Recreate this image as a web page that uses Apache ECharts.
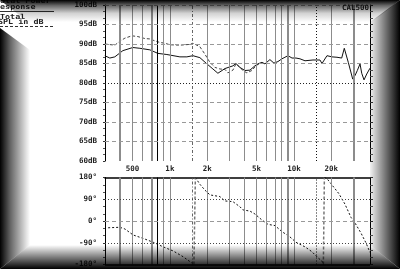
<!DOCTYPE html>
<html><head><meta charset="utf-8">
<script src="https://cdn.jsdelivr.net/npm/echarts@6/dist/echarts.min.js"></script>
<style>html,body{margin:0;padding:0;background:#fff}#c{width:400px;height:269px}</style>
</head><body><div id="c"></div>
<script>
// ---- data ----
const fMin = 300, fMax = 41000;
const magFreq = [299,328,360,418,503,573,690,800,946,1204,1371,1533,1745,1988,2222,2438,2777,3222,3407,3668,4027,4418,4846,5125,5521,5837,6400,6897,7430,8004,8460,8950,9640,10380,11180,12270,14230,16200,16820,18450,20250,22220,24250,25440,26250,27400,29750,31030,32400,34070,35160,36700,38600,41000];
const magSolid = [87.0,86.4,86.7,88.3,89.1,88.9,88.5,87.6,87.3,86.7,86.7,87.0,86.5,84.9,83.6,82.5,83.7,84.4,85.0,84.0,83.2,83.3,84.4,84.9,85.3,84.9,86.0,85.1,85.5,86.2,86.6,87.0,86.4,86.4,86.2,85.7,85.9,85.9,85.0,87.0,86.7,86.6,86.4,88.9,88.5,85.3,81.0,81.9,83.2,84.9,82.5,80.8,82.3,83.8];
const magDashFreq = [299,360,395,434,494,552,629,690,757,831,912,1000,1204,1450,1533,1745,1915,2102,2307,2530,2777,2933,3222,3407,3668,3876,4171,4578,4935,5320];
const magDash = [90.0,89.7,90.7,91.5,92.1,91.9,91.4,91.3,90.8,90.4,90.2,89.8,89.7,89.9,90.2,89.3,87.4,85.3,84.0,83.6,83.5,82.6,83.3,84.9,84.0,83.2,82.6,83.2,84.4,85.1];
const phaseFreq = [318,395,434,506,609,734,883,1063,1280,1496,1562,1605,1642,1745,1915,2102,2530,2777,3222,3668,3876,4418,4846,5521,6185,7034,8004,9243,10380,12270,13950,15590,16820,17260,17580,18340,19830,23030,25740,28820,31030,34700,38000,41000];
const phaseDeg = [-28,-26,-33,-58,-72,-88,-107,-124,-148,-173,-180,180,177,152,128,108,101,83,80,59,46,41,29,4,-14,-19,-44,-65,-88,-107,-127,-152,-166,-180,180,177,155,113,70,15,-8,-50,-90,-130];
const dbTicks = [60,65,70,75,80,85,90,95,100];
const degTicks = [-180,-90,0,90,180];
const gridFreqs = [400,500,600,700,800,900,1000,1500,2000,3000,4000,5000,6000,7000,8000,9000,10000,15000,20000,30000];
const freqTickValues = [500,1000,2000,5000,10000,20000];
const freqTickLabels = ['500','1k','2k','5k','10k','20k'];

// ---- build ----
const X = f => Math.log10(f);
const FONT = 'DejaVu Sans Mono';
const thickF = [400,700,9000,30000], blackF = [800], dotGrayF = [1500], dotBlackF = [15000];
function vStyle(f){
  if (dotBlackF.includes(f)) return {color:'#111',width:1,type:[1,2]};
  if (dotGrayF.includes(f)) return {color:'#666',width:1,type:[3,2,1,2]};
  if (blackF.includes(f)) return {color:'#000',width:1,type:'solid'};
  if (thickF.includes(f)) return {color:'#8c8c8c',width:2,type:'solid'};
  return {color:'#8c8c8c',width:1,type:'solid'};
}
const vLines = gridFreqs.map(f => ({xAxis: X(f), lineStyle: vStyle(f)}));
const hTop = dbTicks.filter(v => v !== 60).map(v => ({yAxis: v, lineStyle: v === 80 ? {color:'#222',width:1,type:[1,2]} : {color:'#999',width:1,type:[4,3]}}));
const hBot = degTicks.filter(v => v !== 180).map(v => ({yAxis: v, lineStyle:
  v === -180 ? {color:'#000',width:1.5,type:'solid'} : (v === 0 ? {color:'#999',width:1,type:[4,3]} : {color:'#444',width:1,type:[1,2]})}));
function ml(data){ return {silent:true, symbol:['none','none'], label:{show:false}, animation:false, emphasis:{disabled:true}, data}; }

const series = [];
series.push({type:'line', xAxisIndex:0, yAxisIndex:0, data:[[X(fMin),60]], symbol:'none', lineStyle:{opacity:0}, z:1, markLine: ml(vLines.concat(hTop))});
series.push({type:'line', xAxisIndex:1, yAxisIndex:2, data:[[X(fMin),0]], symbol:'none', lineStyle:{opacity:0}, z:1, markLine: ml(vLines.concat(hBot))});
series.push({type:'line', xAxisIndex:0, yAxisIndex:0, z:3, symbol:'none', data: magDashFreq.map((f,i)=>[X(f), magDash[i]]), lineStyle:{color:'#444',width:1,type:[3,2]}});
series.push({type:'line', xAxisIndex:0, yAxisIndex:0, z:4, symbol:'none', data: magFreq.map((f,i)=>[X(f), magSolid[i]]), lineStyle:{color:'#111',width:1}});
// phase segments + wrap lines
let seg = [];
for (let i = 0; i < phaseFreq.length; i++){
  if (i > 0 && Math.abs(phaseDeg[i]-phaseDeg[i-1]) > 270){
    series.push({type:'line', xAxisIndex:1, yAxisIndex:2, z:3, symbol:'none', data: seg, lineStyle:{color:'#111',width:1,type:[2,2]}});
    series.push({type:'line', xAxisIndex:1, yAxisIndex:2, z:2, symbol:'none', data: [[X(phaseFreq[i-1]),phaseDeg[i-1]],[X(phaseFreq[i]),phaseDeg[i]]], lineStyle:{color:'#777',width:1.5,type:[3,2]}});
    seg = [];
  }
  seg.push([X(phaseFreq[i]), phaseDeg[i]]);
}
series.push({type:'line', xAxisIndex:1, yAxisIndex:2, z:3, symbol:'none', data: seg, lineStyle:{color:'#111',width:1,type:[2,2]}});

const lblStyle = {fontFamily:FONT, fontWeight:'bold', fontSize:7.5, color:'#222'};
function yAx(grid, pos, min, max, interval, fmt){
  const left = pos === 'left';
  return {type:'value', gridIndex:grid, position:pos, min, max, interval,
    axisLine:{show:true, onZero:false, lineStyle:{color:'#000',width:1}},
    axisTick:{show:true, length:left?2:3, lineStyle:{color:'#333'}},
    minorTick:{show:true, splitNumber:3, length:left?2:3, lineStyle:{color:'#555'}},
    splitLine:{show:false},
    axisLabel: left ? Object.assign({show:true, margin:8, formatter: fmt}, lblStyle) : {show:false}};
}

const vig = (pts, x, y, x2, y2, stops) => ({type:'polygon', z:100, silent:true, shape:{points:pts},
  style:{fill:{type:'linear', x, y, x2, y2, colorStops: stops.map(s=>({offset:s[0], color:'rgba(0,0,0,'+s[1]+')'}))}}});
const tfont = 'bold 7px "DejaVu Sans Mono"';
const txt = (t, x, y) => ({type:'text', z:50, silent:true, x, y, scaleX:1.2, style:{text:t, font:tfont, fill:'#222', textVerticalAlign:'middle', verticalAlign:'middle'}});

const option = {
  animation:false,
  backgroundColor:'#fff',
  grid:[
    {left:105, right:30, top:5, height:156},
    {left:105, right:30, top:177.5, height:87}
  ],
  xAxis:[
    {type:'value', gridIndex:0, min:X(fMin), max:X(fMax), show:false, axisLine:{onZero:false}, splitLine:{show:false}},
    {type:'value', gridIndex:1, position:'top', min:X(fMin), max:X(fMax),
      axisLine:{show:true, onZero:false, lineStyle:{color:'#000',width:1.5}}, axisTick:{show:false}, splitLine:{show:false},
      axisLabel: Object.assign({show:true, margin:4, customValues: freqTickValues.map(X),
        formatter: v => { const i = freqTickValues.findIndex(f => Math.abs(X(f)-v) < 1e-6); return i >= 0 ? freqTickLabels[i] : ''; }}, lblStyle)}
  ],
  yAxis:[
    yAx(0,'left',60,100,5, v => v + 'dB'),
    yAx(0,'right',60,100,5),
    yAx(1,'left',-180,180,90, v => v + '°'),
    yAx(1,'right',-180,180,90)
  ],
  series,
  graphic:[
    txt('Total Power', -5, 1.5),
    txt('Response', -5, 7),
    {type:'line', z:50, silent:true, shape:{x1:0,y1:11.5,x2:54,y2:11.5}, style:{stroke:'#333', lineWidth:1}},
    txt('Total', 0, 17),
    txt('SPL in dB', -2, 22.5),
    {type:'line', z:50, silent:true, shape:{x1:0,y1:26.5,x2:53,y2:26.5}, style:{stroke:'#333', lineWidth:1, lineDash:[3,2]}},
    {type:'text', z:50, silent:true, x:369, y:8, style:{text:'CAL500', font:'bold 7.5px "DejaVu Sans Mono"', fill:'#222', textAlign:'right', align:'right', textVerticalAlign:'middle', verticalAlign:'middle'}},
    vig([[0,0],[400,0],[372,22],[28,22]], 0,0,0,1, [[0,1],[0.25,0.6],[0.6,0.18],[1,0]]),
    vig([[0,28],[30,50],[30,245],[0,269]], 0,0,1,0, [[0,1],[0.35,0.6],[1,0]]),
    vig([[400,0],[400,269],[370,245],[370,22]], 0,0,1,0, [[0,0.05],[1,1]]),
    vig([[0,269],[30,245],[370,245],[400,269]], 0,0,0,1, [[0,0],[1,1]])
  ]
};
const chart = echarts.init(document.getElementById('c'), null, {renderer:'canvas'});
chart.setOption(option);
</script></body></html>
